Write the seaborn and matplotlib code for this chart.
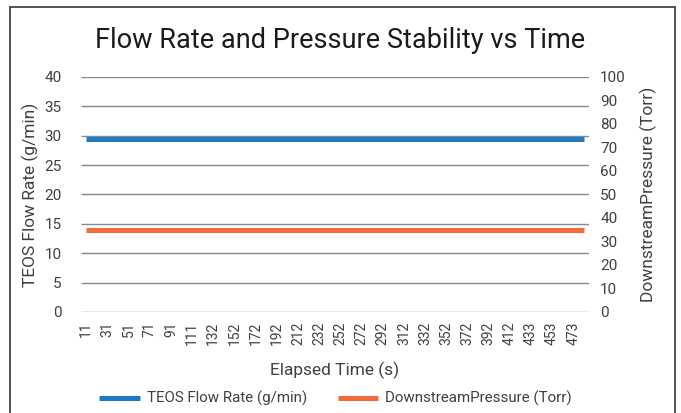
import numpy as np
import pandas as pd
import matplotlib
matplotlib.use("Agg")
import matplotlib.pyplot as plt
import seaborn as sns
from matplotlib.patches import Rectangle

# Data
elapsed_s = [11, 21, 31, 41, 51, 61, 71, 81, 91, 101, 111,
             122, 132, 142, 152, 162, 172, 182, 192, 202, 212, 222,
             232, 242, 252, 262, 272, 282, 292, 302, 312, 322, 332,
             342, 352, 362, 372, 382, 392, 402, 412,
             423, 433, 443, 453, 463, 473, 483]
flow_rate = [29.5] * len(elapsed_s)          # g/min
downstream_pressure = [34.9] * len(elapsed_s)  # Torr

flow_color = '#1F7BC8'
pres_color = '#F26B38'

sns.set_style('white')
plt.rcParams['font.family'] = ['Roboto', 'DejaVu Sans']
plt.rcParams['lines.solid_capstyle'] = 'butt'

df = pd.DataFrame({'idx': np.arange(len(elapsed_s)),
                   'time': elapsed_s,
                   'flow': flow_rate,
                   'pressure': downstream_pressure})

fig = plt.figure(figsize=(6.81, 4.13), dpi=100)
ax = fig.add_axes([0.119, 0.2446, 0.746, 0.569])
ax2 = ax.twinx()

# gridlines on primary axis
ax.set_ylim(0, 40)
ax.set_yticks(range(0, 41, 5))
ax.yaxis.grid(True, color='#8a8a8a', linewidth=1.0)
ax.set_axisbelow(True)

sns.lineplot(data=df, x='idx', y='flow', ax=ax, color=flow_color,
             linewidth=3.6, label='TEOS Flow Rate (g/min)', legend=False)
sns.lineplot(data=df, x='idx', y='pressure', ax=ax2, color=pres_color,
             linewidth=3.6, label='DownstreamPressure (Torr)', legend=False)

ax2.set_ylim(0, 100)
ax2.set_yticks(range(0, 101, 10))

n = len(elapsed_s)
ax.set_xlim(-0.5, n - 0.5)
ax.set_xticks(df['idx'][::2])
ax.set_xticklabels([str(t) for t in elapsed_s[::2]], rotation=90, fontsize=10,
                   color='#404040')

for a in (ax, ax2):
    for s in a.spines.values():
        s.set_visible(False)
    a.tick_params(length=0)
ax.tick_params(axis='y', labelsize=11, colors='#404040', pad=14)
ax2.tick_params(axis='y', labelsize=11, colors='#404040', pad=8)
ax.tick_params(axis='x', pad=7)

ax.set_xlabel('Elapsed Time (s)', fontsize=12.5, color='#404040', labelpad=12)
ax.set_ylabel('TEOS Flow Rate (g/min)', fontsize=12.5, color='#404040', labelpad=4)
ax2.set_ylabel('DownstreamPressure (Torr)', fontsize=12.5, color='#404040', labelpad=10)

fig.suptitle('Flow Rate and Pressure Stability vs Time', fontsize=19.5,
             color='#1a1a1a', y=0.935)

# combined legend at the bottom
h1, l1 = ax.get_legend_handles_labels()
h2, l2 = ax2.get_legend_handles_labels()
fig.legend(h1 + h2, l1 + l2, loc='center', bbox_to_anchor=(0.493, 0.035),
           ncol=2, frameon=False, fontsize=10.9, handlelength=2.7,
           handletextpad=0.45, columnspacing=2.0, labelcolor='#404040')

# outer chart border
fig.patches.append(Rectangle((10 / 681, -0.01), 665 / 681, 1 - 7 / 413 + 0.01,
                             transform=fig.transFigure, fill=False,
                             edgecolor='#333333', linewidth=1.2))

fig.savefig('out.png', dpi=100)
